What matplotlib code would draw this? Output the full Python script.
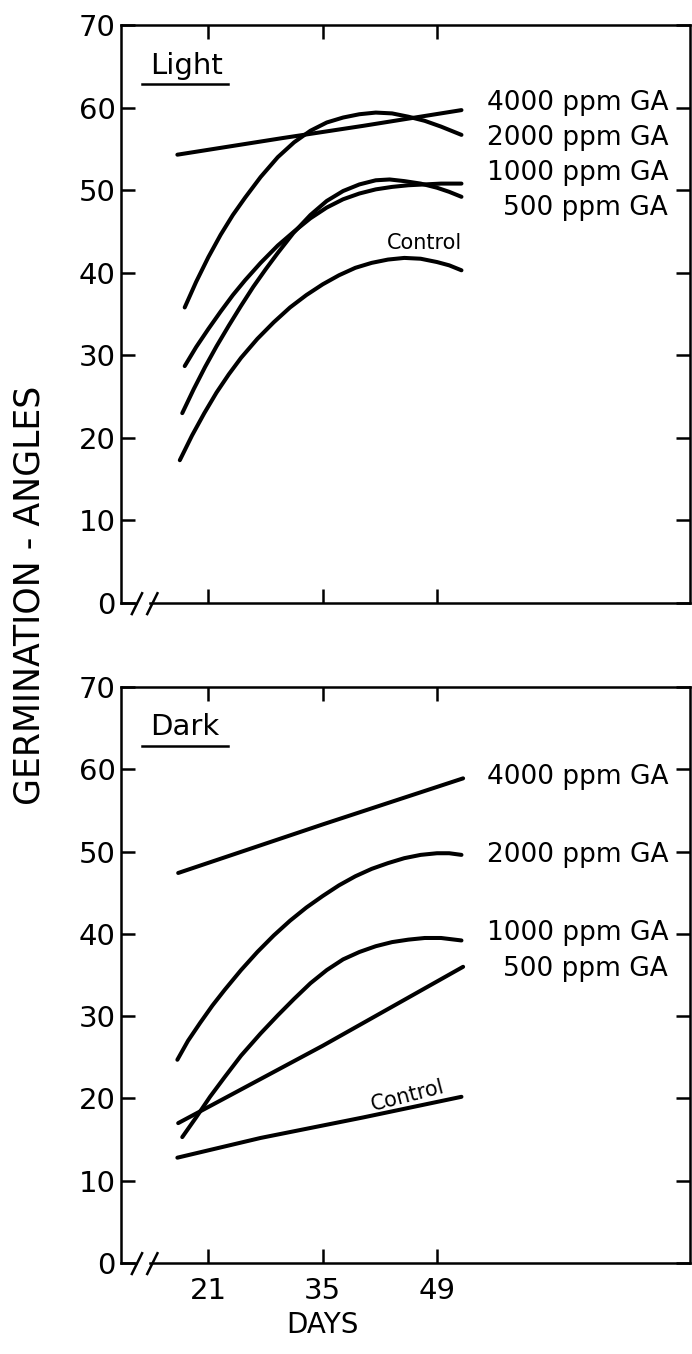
import numpy as np
import matplotlib
matplotlib.use('Agg')
import matplotlib.pyplot as plt

plt.rcParams['font.family'] = ['DejaVu Sans']

# days / germination angles
light_4000_x = [17.2, 30.0, 40.0, 52.0]
light_4000_y = [54.3, 56.3, 57.8, 59.7]
light_2000_x = [18.1, 19.5, 21.0, 22.5, 24.0, 25.5, 27.4, 29.5, 31.5, 33.5,
                35.5, 37.5, 39.5, 41.5, 43.5, 45.5, 47.5, 49.5, 52.0]
light_2000_y = [35.8, 38.9, 41.9, 44.6, 47.0, 49.1, 51.6, 54.0, 55.8, 57.2,
                58.2, 58.8, 59.2, 59.4, 59.3, 58.9, 58.4, 57.7, 56.7]
light_1000_x = [18.1, 19.5, 21.0, 22.5, 24.0, 25.5, 27.4, 29.5, 31.5, 33.5,
                35.5, 37.5, 39.5, 41.5, 43.5, 45.5, 47.5, 49.5, 52.0]
light_1000_y = [28.7, 31.0, 33.2, 35.3, 37.3, 39.1, 41.2, 43.3, 45.0, 46.6,
                47.9, 48.9, 49.6, 50.1, 50.4, 50.6, 50.7, 50.8, 50.8]
light_500_x = [17.8, 19.2, 20.6, 22.0, 23.5, 25.0, 26.5, 28.0, 29.5, 31.4,
               33.5, 35.5, 37.5, 39.5, 41.5, 43.2, 45.0, 47.0, 49.0, 50.5, 52.0]
light_500_y = [23.0, 25.9, 28.6, 31.1, 33.6, 36.0, 38.3, 40.4, 42.4, 44.8,
               47.0, 48.7, 49.9, 50.7, 51.2, 51.3, 51.1, 50.8, 50.3, 49.8, 49.2]
light_ctl_x = [17.5, 19.0, 20.5, 22.0, 23.5, 25.0, 27.0, 29.0, 31.0, 33.0,
               35.0, 37.0, 39.0, 41.0, 43.0, 45.0, 47.0, 49.0, 50.5, 52.0]
light_ctl_y = [17.3, 20.3, 23.0, 25.5, 27.7, 29.7, 32.0, 34.0, 35.8, 37.3,
               38.6, 39.7, 40.6, 41.2, 41.6, 41.8, 41.7, 41.3, 40.9, 40.3]

dark_4000_x = [17.3, 35.0, 52.2]
dark_4000_y = [47.4, 53.3, 58.9]
dark_2000_x = [17.2, 18.5, 20.0, 21.5, 23.0, 25.0, 27.0, 29.0, 31.0, 33.0,
               35.0, 37.0, 39.0, 41.0, 43.0, 45.0, 47.0, 49.0, 50.5, 52.0]
dark_2000_y = [24.7, 27.0, 29.2, 31.3, 33.2, 35.6, 37.8, 39.8, 41.6, 43.2,
               44.6, 45.9, 47.0, 47.9, 48.6, 49.2, 49.6, 49.8, 49.8, 49.6]
dark_1000_x = [17.8, 19.5, 21.2, 23.0, 25.0, 27.4, 29.5, 31.5, 33.5, 35.5,
               37.5, 39.5, 41.5, 43.5, 45.5, 47.5, 49.5, 52.0]
dark_1000_y = [15.3, 17.7, 20.2, 22.6, 25.2, 27.9, 30.1, 32.1, 34.0, 35.6,
               36.9, 37.8, 38.5, 39.0, 39.3, 39.5, 39.5, 39.2]
dark_500_x = [17.3, 35.0, 52.2]
dark_500_y = [17.0, 26.4, 36.0]
dark_ctl_x = [17.2, 27.4, 40.0, 52.0]
dark_ctl_y = [12.8, 15.2, 17.7, 20.2]

doses = ['4000 ppm GA', '2000 ppm GA', '1000 ppm GA', '500 ppm GA']
light_label_y = [60.5, 56.3, 52.1, 47.9]
dark_label_y = [59.1, 49.6, 40.1, 35.7]

xticks = [21, 35, 49]
yticks = [0, 10, 20, 30, 40, 50, 60, 70]

fig = plt.figure(figsize=(6.92, 13.54), dpi=100)
ax1 = fig.add_axes([0.1749, 0.5546, 0.8223, 0.4269])
ax2 = fig.add_axes([0.1749, 0.0672, 0.8223, 0.4254])

lw = 2.9
slw = 1.8

def setup(ax, title, show_xlabels):
  ax.set_xlim(10.3, 80.0)
  ax.set_ylim(0, 70)
  ax.set_xticks(xticks)
  ax.set_yticks(yticks)
  ax.tick_params(direction='in', length=10, width=slw, top=True, right=True,
                 labelsize=21, colors='black')
  ax.tick_params(axis='y', pad=4)
  ax.tick_params(axis='x', pad=10, labelbottom=show_xlabels)
  for s in ['left', 'right', 'top']:
    ax.spines[s].set_linewidth(slw)
  ax.spines['bottom'].set_visible(False)
  # broken bottom axis
  ax.plot([0, 0.026], [0, 0], color='black', lw=slw, transform=ax.transAxes, clip_on=False)
  ax.plot([0.051, 1], [0, 0], color='black', lw=slw, transform=ax.transAxes, clip_on=False)
  for x0 in [0.019, 0.046]:
    ax.plot([x0, x0 + 0.018], [-0.019, 0.017], color='black', lw=slw,
            transform=ax.transAxes, clip_on=False)
  ax.text(0.051, 0.93, title, fontsize=21, transform=ax.transAxes, va='center')
  ax.plot([0.037, 0.188], [0.898, 0.898], color='black', lw=slw, transform=ax.transAxes)

setup(ax1, 'Light', False)
setup(ax2, 'Dark', True)

for x, y in [(light_4000_x, light_4000_y), (light_2000_x, light_2000_y),
             (light_1000_x, light_1000_y), (light_500_x, light_500_y),
             (light_ctl_x, light_ctl_y)]:
  ax1.plot(x, y, color='black', lw=lw, solid_capstyle='round', solid_joinstyle='round')

for x, y in [(dark_4000_x, dark_4000_y), (dark_2000_x, dark_2000_y),
             (dark_1000_x, dark_1000_y), (dark_500_x, dark_500_y),
             (dark_ctl_x, dark_ctl_y)]:
  ax2.plot(x, y, color='black', lw=lw, solid_capstyle='round', solid_joinstyle='round')

for lab, ly in zip(doses, light_label_y):
  ax1.text(77.3, ly, lab, fontsize=19, ha='right', va='center')
for lab, ly in zip(doses, dark_label_y):
  ax2.text(77.3, ly, lab, fontsize=19, ha='right', va='center')

ax1.text(47.5, 43.6, 'Control', fontsize=15, ha='center', va='center')
ax2.text(45.4, 20.3, 'Control', fontsize=15, ha='center', va='center',
         rotation=14.5, rotation_mode='anchor')

fig.text(30 / 692, 1 - 595 / 1354, 'GERMINATION - ANGLES', rotation=90,
         ha='center', va='center', fontsize=25)
fig.text(322 / 692, 1 - 1325 / 1354, 'DAYS', ha='center', va='center', fontsize=20)

fig.savefig('out.png', dpi=100)
